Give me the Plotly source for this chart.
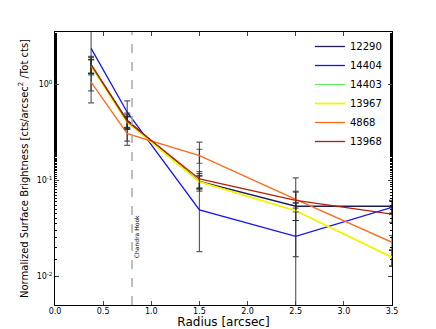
import plotly.graph_objects as go

# radius bins [arcsec]
radius = [0.375, 0.75, 1.5, 2.5, 3.5]

obs_ids = ["12290", "14404", "14403", "13967", "4868", "13968"]
colors = ["#1c1c5a", "#1414f0", "#33ee33", "#f5f500", "#ff6a1a", "#b02008"]
widths = [1.3, 1.3, 0.8, 1.8, 1.3, 1.3]

# normalized surface brightness per ObsID
sb_12290 = [1.60, 0.42, 0.097, 0.0535, 0.0535]
sb_14404 = [2.36, 0.51, 0.049, 0.026, 0.052]
sb_14403 = [1.55, 0.40, 0.096, 0.048, 0.0157]
sb_13967 = [1.55, 0.40, 0.096, 0.048, 0.0157]
sb_4868 = [1.05, 0.305, 0.18, 0.063, 0.0225]
sb_13968 = [1.59, 0.41, 0.103, 0.0616, 0.0443]

# asymmetric errors (upper, lower)
err_up_12290 = [0.35, 0.08, 0.02, 0.052, 0.008]
err_dn_12290 = [0.30, 0.07, 0.02, 0.050, 0.008]
err_up_14404 = [1.20, 0.16, 0.20, 0.012, 0.008]
err_dn_14404 = [1.72, 0.28, 0.031, 0.010, 0.008]
err_up_14403 = [0.25, 0.06, 0.015, 0.010, 0.003]
err_dn_14403 = [0.25, 0.06, 0.015, 0.010, 0.003]
err_up_13967 = [0.25, 0.06, 0.015, 0.010, 0.003]
err_dn_13967 = [0.25, 0.06, 0.015, 0.010, 0.003]
err_up_4868 = [0.20, 0.05, 0.03, 0.012, 0.004]
err_dn_4868 = [0.20, 0.05, 0.03, 0.012, 0.004]
err_up_13968 = [0.30, 0.07, 0.02, 0.015, 0.008]
err_dn_13968 = [0.30, 0.07, 0.02, 0.015, 0.008]

series = [
    (sb_12290, err_up_12290, err_dn_12290),
    (sb_14404, err_up_14404, err_dn_14404),
    (sb_14403, err_up_14403, err_dn_14403),
    (sb_13967, err_up_13967, err_dn_13967),
    (sb_4868, err_up_4868, err_dn_4868),
    (sb_13968, err_up_13968, err_dn_13968),
]

hook_x = 0.8

fig = go.Figure()
for name, col, w, (vals, up, dn) in zip(obs_ids, colors, widths, series):
    fig.add_trace(go.Scatter(
        x=radius, y=vals, mode="lines", name=name,
        line=dict(color=col, width=w),
        error_y=dict(type="data", symmetric=False, array=up, arrayminus=dn,
                     color="rgba(40,40,40,0.75)", thickness=1.2, width=3),
    ))

fig.add_shape(type="line", xref="x", yref="paper", x0=hook_x, x1=hook_x, y0=0, y1=1,
              line=dict(color="#aaaaaa", width=1.5, dash="dash"))
fig.add_annotation(x=hook_x + 0.045, y=-1.59, xref="x", yref="y", text="Chandra Hook",
                   showarrow=False, textangle=-90, font=dict(size=6, color="black"))

fig.update_layout(
    width=436, height=329,
    margin=dict(l=55, r=44, t=32, b=24),
    paper_bgcolor="white", plot_bgcolor="white",
    font=dict(family="DejaVu Sans", color="black"),
    showlegend=True,
    legend=dict(x=0.985, y=1.0, xanchor="right", yanchor="top",
                bgcolor="rgba(0,0,0,0)", font=dict(size=10), tracegroupgap=0,
                itemwidth=30),
)
fig.update_xaxes(
    range=[0, 3.5], tickvals=[0, 0.5, 1, 1.5, 2, 2.5, 3, 3.5], tickformat=".1f",
    showgrid=False, zeroline=False, showline=True, linecolor="black", linewidth=1,
    mirror="allticks", ticks="inside", ticklen=4, tickfont=dict(size=8),
    ticklabelstandoff=-2,
    title=dict(text="Radius [arcsec]", font=dict(size=12), standoff=0),
    automargin=False,
)
fig.update_yaxes(
    type="log", range=[-2.301, 0.544],
    tickvals=[0.01, 0.1, 1], ticktext=["10<sup>-2</sup>", "10<sup>-1</sup>", "10<sup>0</sup>"],
    showgrid=False, zeroline=False, showline=True, linecolor="black", linewidth=1,
    mirror="allticks", ticks="inside", ticklen=4, tickfont=dict(size=8),
    minor=dict(ticks="inside", ticklen=2, tickcolor="black", showgrid=False),
    title=dict(text="Normalized Surface Brightness [cts/arcsec<sup>2</sup> /Tot cts]",
               font=dict(size=10), standoff=6),
    automargin=False,
)

fig.write_html("out.html", config={"displayModeBar": False},
               post_script="document.body.style.margin='0';")
